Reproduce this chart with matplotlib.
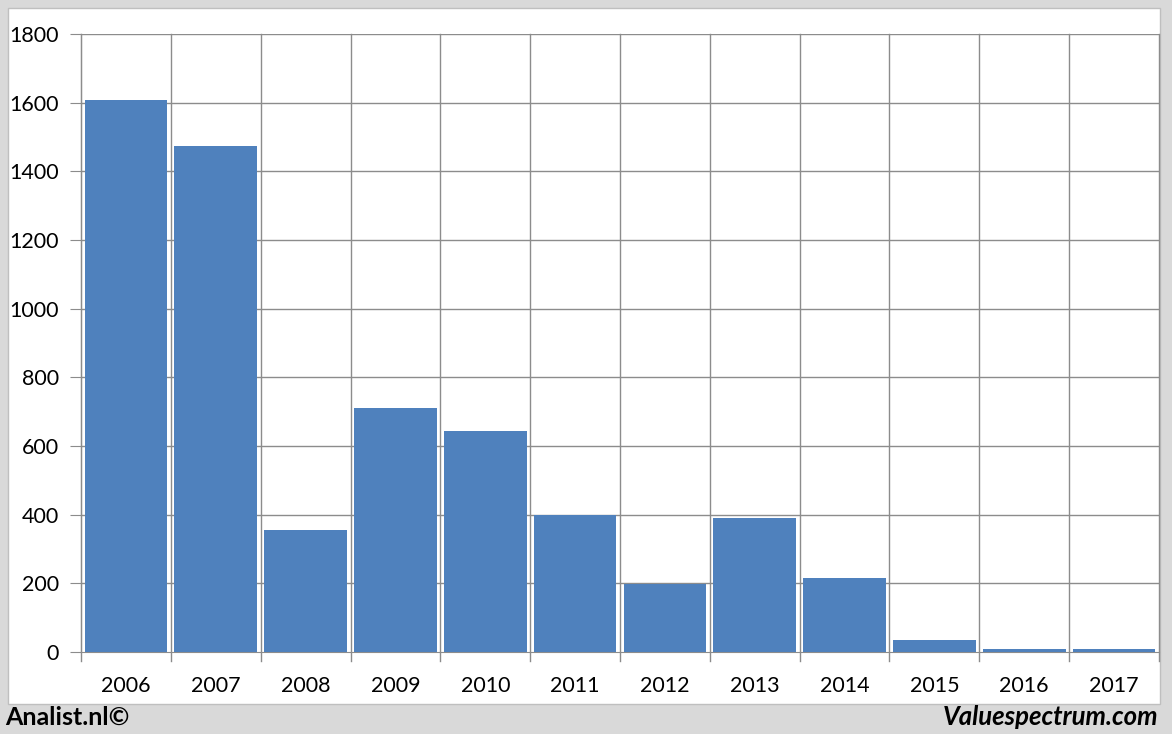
import matplotlib.pyplot as plt
from matplotlib.patches import Rectangle

jaren = ["2006", "2007", "2008", "2009", "2010", "2011", "2012", "2013", "2014", "2015", "2016", "2017"]
waarden = [1608, 1474, 355, 711, 644, 399, 198, 390, 216, 35, 10, 10]
yticks = [0, 200, 400, 600, 800, 1000, 1200, 1400, 1600, 1800]

plt.rcParams['font.family'] = ['Lato', 'DejaVu Sans']

W, H = 1172, 734
fig = plt.figure(figsize=(W / 100, H / 100), dpi=100, facecolor="#d9d9d9")

# witte panel achter de grafiek
bg = fig.add_axes([0, 0, 1, 1], zorder=-1)
bg.set_xlim(0, W)
bg.set_ylim(H, 0)
bg.axis("off")
bg.add_patch(Rectangle((8, 8), 1152, 696, facecolor="white", edgecolor="#bfbfbf", lw=1))

ax = fig.add_axes([81 / W, 1 - 652 / H, (1159 - 81) / W, (652 - 34) / H], zorder=1)
ax.patch.set_alpha(0)
x = list(range(len(jaren)))
ax.bar(x, waarden, width=0.92, color="#4f81bd", zorder=3)

ax.set_xlim(-0.5, len(jaren) - 0.5)
ax.set_ylim(0, 1800)
ax.set_yticks(yticks)
ax.set_yticklabels([str(v) for v in yticks], fontsize=15.5)
ax.set_xticks(x)
ax.set_xticklabels(jaren, fontsize=15.5)
ax.tick_params(axis="x", length=0, pad=17)
ax.tick_params(axis="y", length=8, color="#8c8c8c", pad=8)

for v in yticks[1:]:
    ax.axhline(v, color="#8c8c8c", lw=1, zorder=1)
for i in range(len(jaren) + 1):
    xb = i - 0.5
    ax.plot([xb, xb], [-25, 1800], color="#8c8c8c", lw=1, zorder=1, clip_on=False)

for s in ["top", "right"]:
    ax.spines[s].set_visible(False)
ax.spines["left"].set_color("#8c8c8c")
ax.spines["bottom"].set_color("#8c8c8c")

fig.text(5 / W, 1 - 717 / H, "Analist.nl©", fontsize=18, fontweight="bold",
         va="center", ha="left")
fig.text(1158 / W, 1 - 717 / H, "Valuespectrum.com", fontsize=18.5, fontweight="bold",
         fontstyle="italic", va="center", ha="right")

fig.savefig("out.png", dpi=100, facecolor=fig.get_facecolor())
